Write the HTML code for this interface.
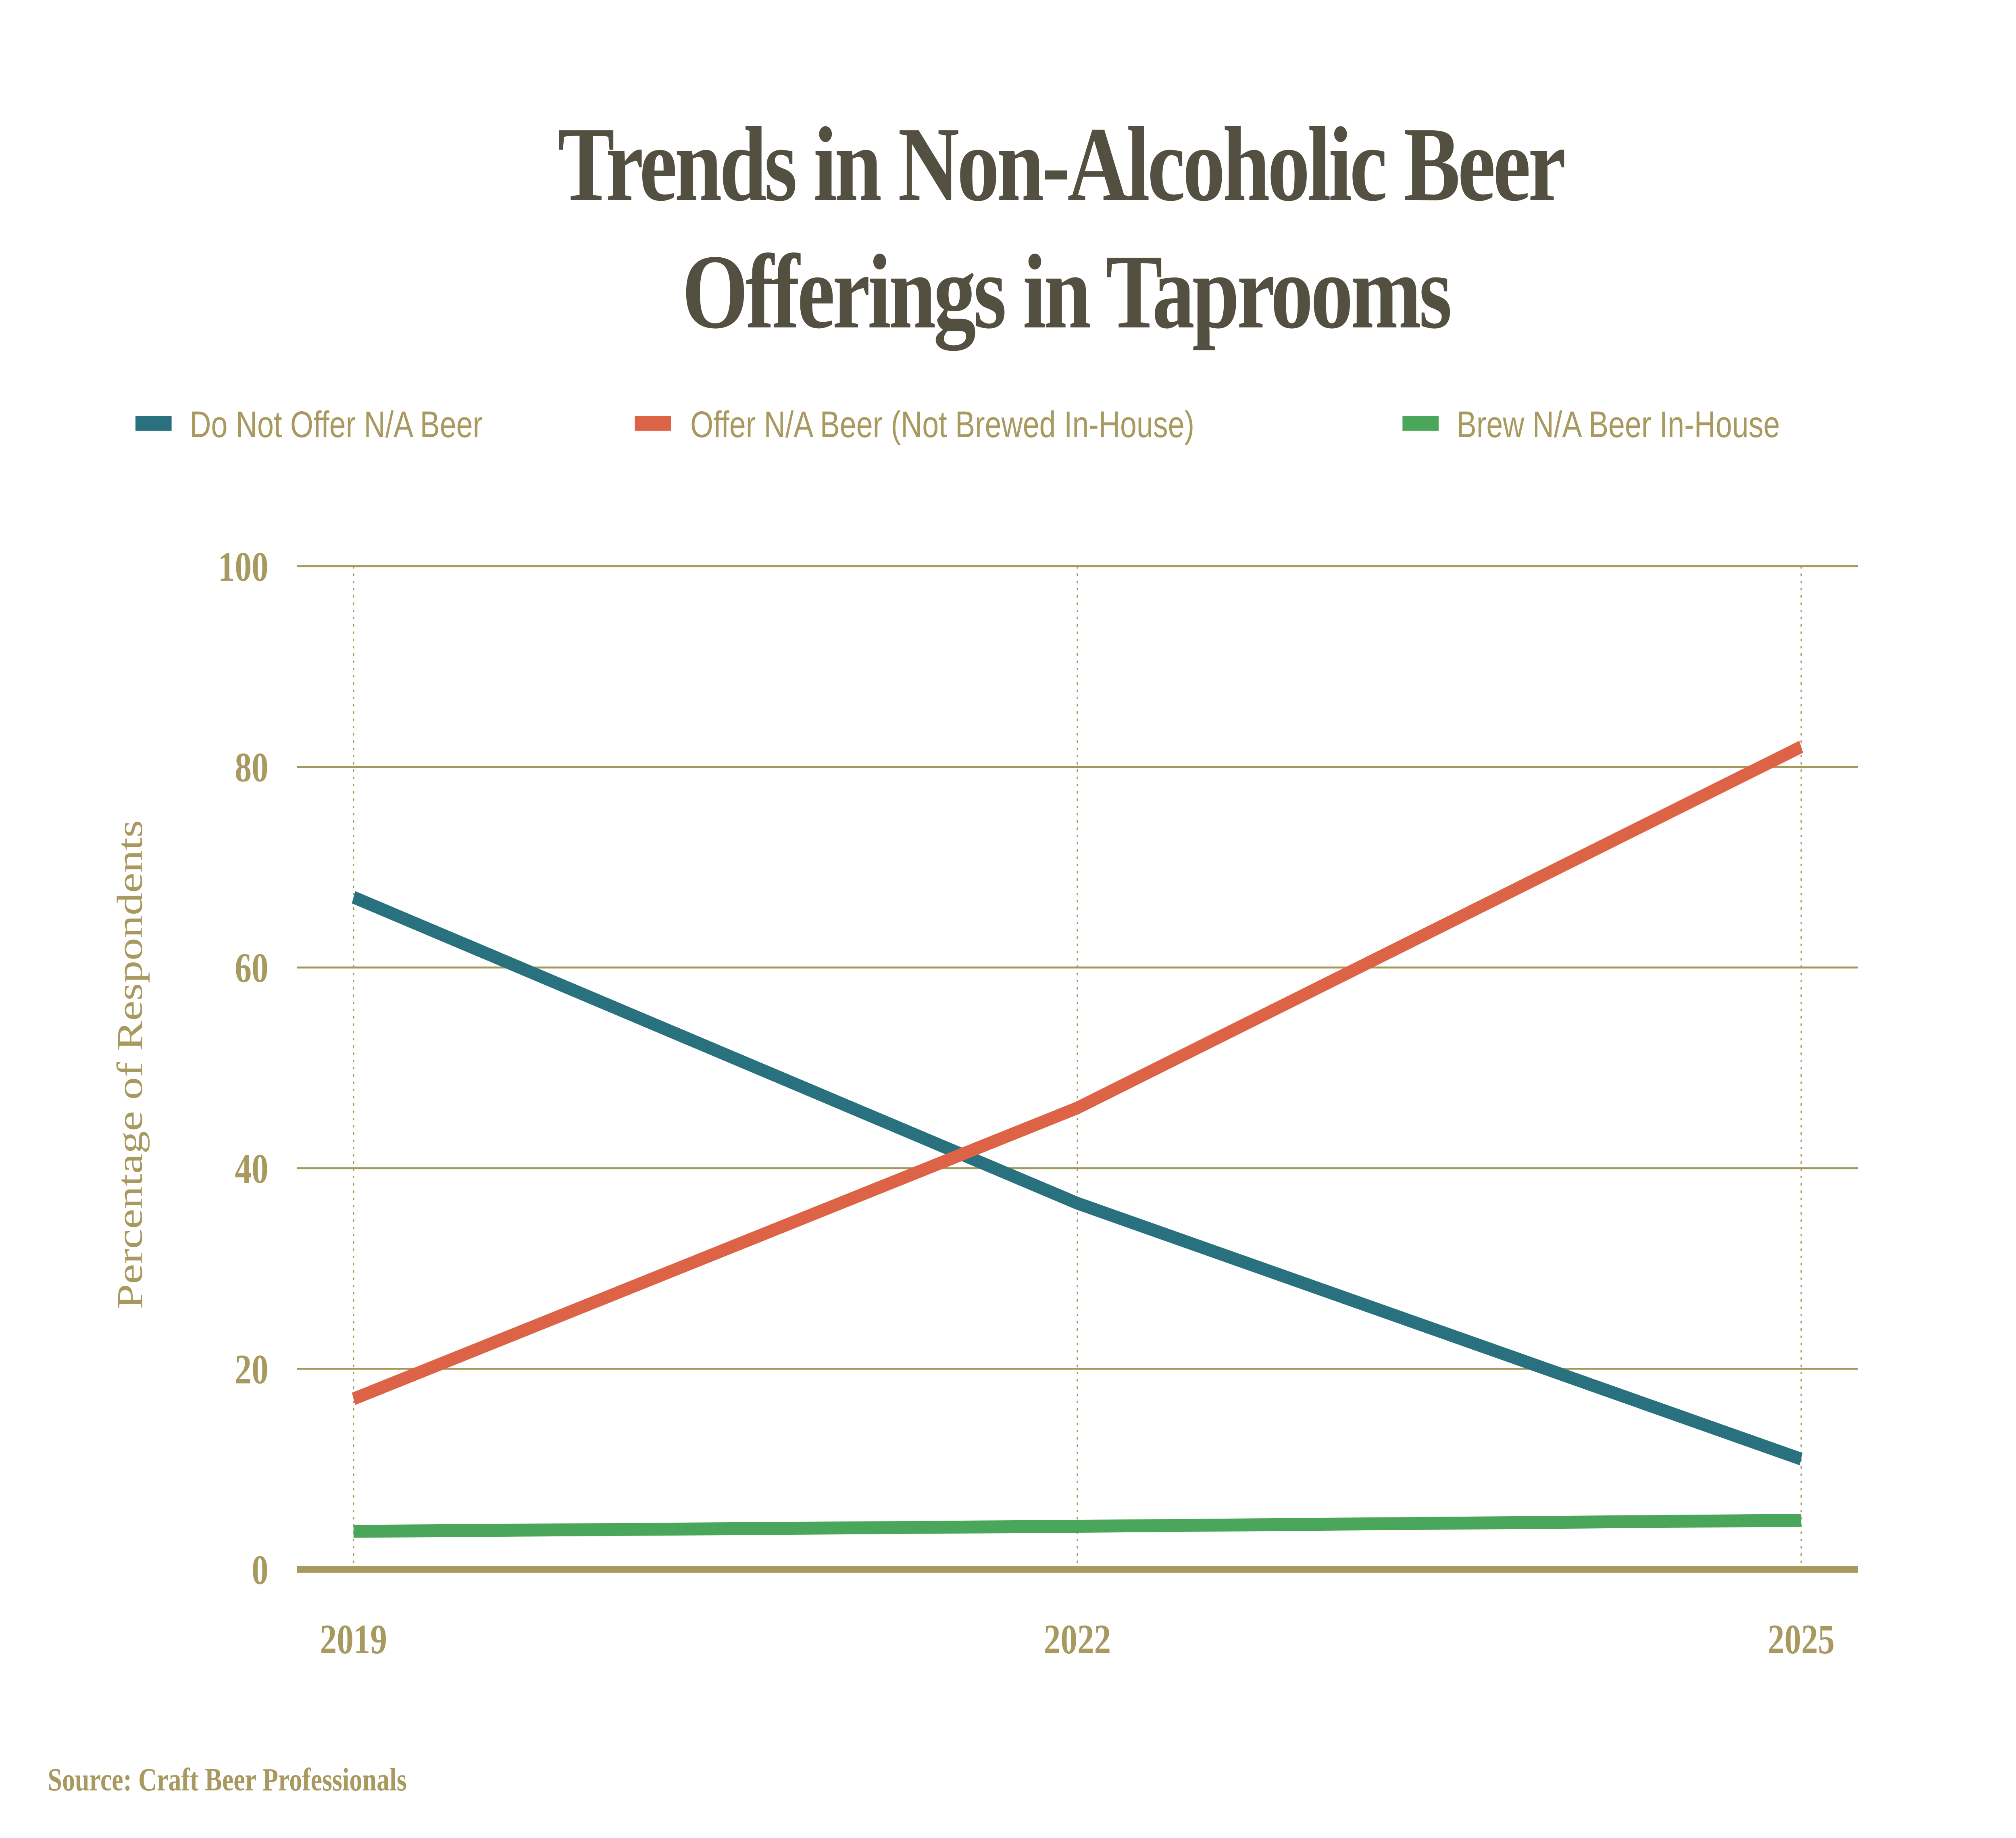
<!DOCTYPE html>
<html><head><meta charset="utf-8"><style>
html,body{margin:0;padding:0;background:#fff;width:100%;height:100%;overflow:hidden;}
svg{display:block;width:100vw;height:100vh;}
.serif{font-family:"Liberation Serif",serif;}
.sans{font-family:"Liberation Sans",sans-serif;}
</style></head><body>
<svg id="chart" viewBox="0 0 1562.5 1139.5" preserveAspectRatio="none" xmlns="http://www.w3.org/2000/svg">
<rect width="1562.5" height="1139.5" fill="#ffffff"/>
<text class="serif" x="822" y="124" text-anchor="middle" font-size="66" font-weight="bold" fill="#545041" letter-spacing="-2">Trends in Non-Alcoholic Beer</text>
<text class="serif" x="826" y="203" text-anchor="middle" font-size="66" font-weight="bold" fill="#545041" letter-spacing="-2">Offerings in Taprooms</text>
<g>
<g><rect x="105" y="258" width="28" height="9" fill="#2a7180"/><text class="sans" x="147" y="271" font-size="23" fill="#a8995f">Do Not Offer N/A Beer</text></g>
<g><rect x="492" y="258" width="28" height="9" fill="#dc6346"/><text class="sans" x="535" y="271" font-size="23" fill="#a8995f">Offer N/A Beer (Not Brewed In-House)</text></g>
<g><rect x="1087" y="258" width="28" height="9" fill="#4aa65b"/><text class="sans" x="1129" y="271" font-size="23" fill="#a8995f">Brew N/A Beer In-House</text></g>
</g>
<g id="grid"></g>
<g id="series"></g>
<text class="serif" transform="translate(110,660) rotate(-90)" text-anchor="middle" font-size="28" fill="#a8995f">Percentage of Respondents</text>
<text class="serif" x="37" y="1110" font-size="20" font-weight="bold" fill="#a8995f">Source: Craft Beer Professionals</text>
</svg>
<script>
const categories = ["2019","2022","2025"];
const doNotOffer = [67, 36.5, 11];
const offerNotBrewed = [17, 46, 82];
const brewInHouse = [3.8, 4.3, 4.9];
const yTicks = [0,20,40,60,80,100];

const NS="http://www.w3.org/2000/svg";
const X0=274, X1=1396, Y0=973, Y1=351, PL=230, PR=1440;
function xPos(i){return X0+(X1-X0)*i/(categories.length-1);}
function yPos(v){return Y0-(Y0-Y1)*v/100;}
function mk(tag,attrs,parent){const e=document.createElementNS(NS,tag);for(const k in attrs)e.setAttribute(k,attrs[k]);parent.appendChild(e);return e;}
const grid=document.getElementById('grid');
yTicks.forEach(t=>{
  const y=yPos(t);
  if(t>0){const l=mk('line',{x1:PL,x2:PR,y1:y,y2:y,stroke:'#a39a5a','stroke-width':1.2},grid);
  
  }
  const tx=mk('text',{x:208,y:y+9,'text-anchor':'end','font-size':26,'font-weight':'bold',fill:'#a8995f',class:'serif'},grid);
  tx.textContent=t;
  
  
});
categories.forEach((c,i)=>{
  const x=xPos(i);
  const l=mk('line',{x1:x,x2:x,y1:Y1,y2:Y0,stroke:'#a39a5a','stroke-width':1,'stroke-dasharray':'1.5,3'},grid);
  
  
  const tx=mk('text',{x:x,y:1025,'text-anchor':'middle','font-size':26,'font-weight':'bold',fill:'#a8995f',class:'serif'},grid);
  tx.textContent=c;
  
  
});
const ax=mk('line',{x1:PL,x2:PR,y1:Y0,y2:Y0,stroke:'#a8995f','stroke-width':4},grid);


const ser=document.getElementById('series');
function drawLine(vals,color,name){
  const pts=vals.map((v,i)=>xPos(i)+','+yPos(v)).join(' ');
  const p=mk('polyline',{points:pts,fill:'none',stroke:color,'stroke-width':8},ser);
  
  
}
drawLine(brewInHouse,'#4aa65b','line-brew-in-house');
drawLine(doNotOffer,'#2a7180','line-do-not-offer');
drawLine(offerNotBrewed,'#dc6346','line-offer-not-brewed');
</script>
</body></html>
